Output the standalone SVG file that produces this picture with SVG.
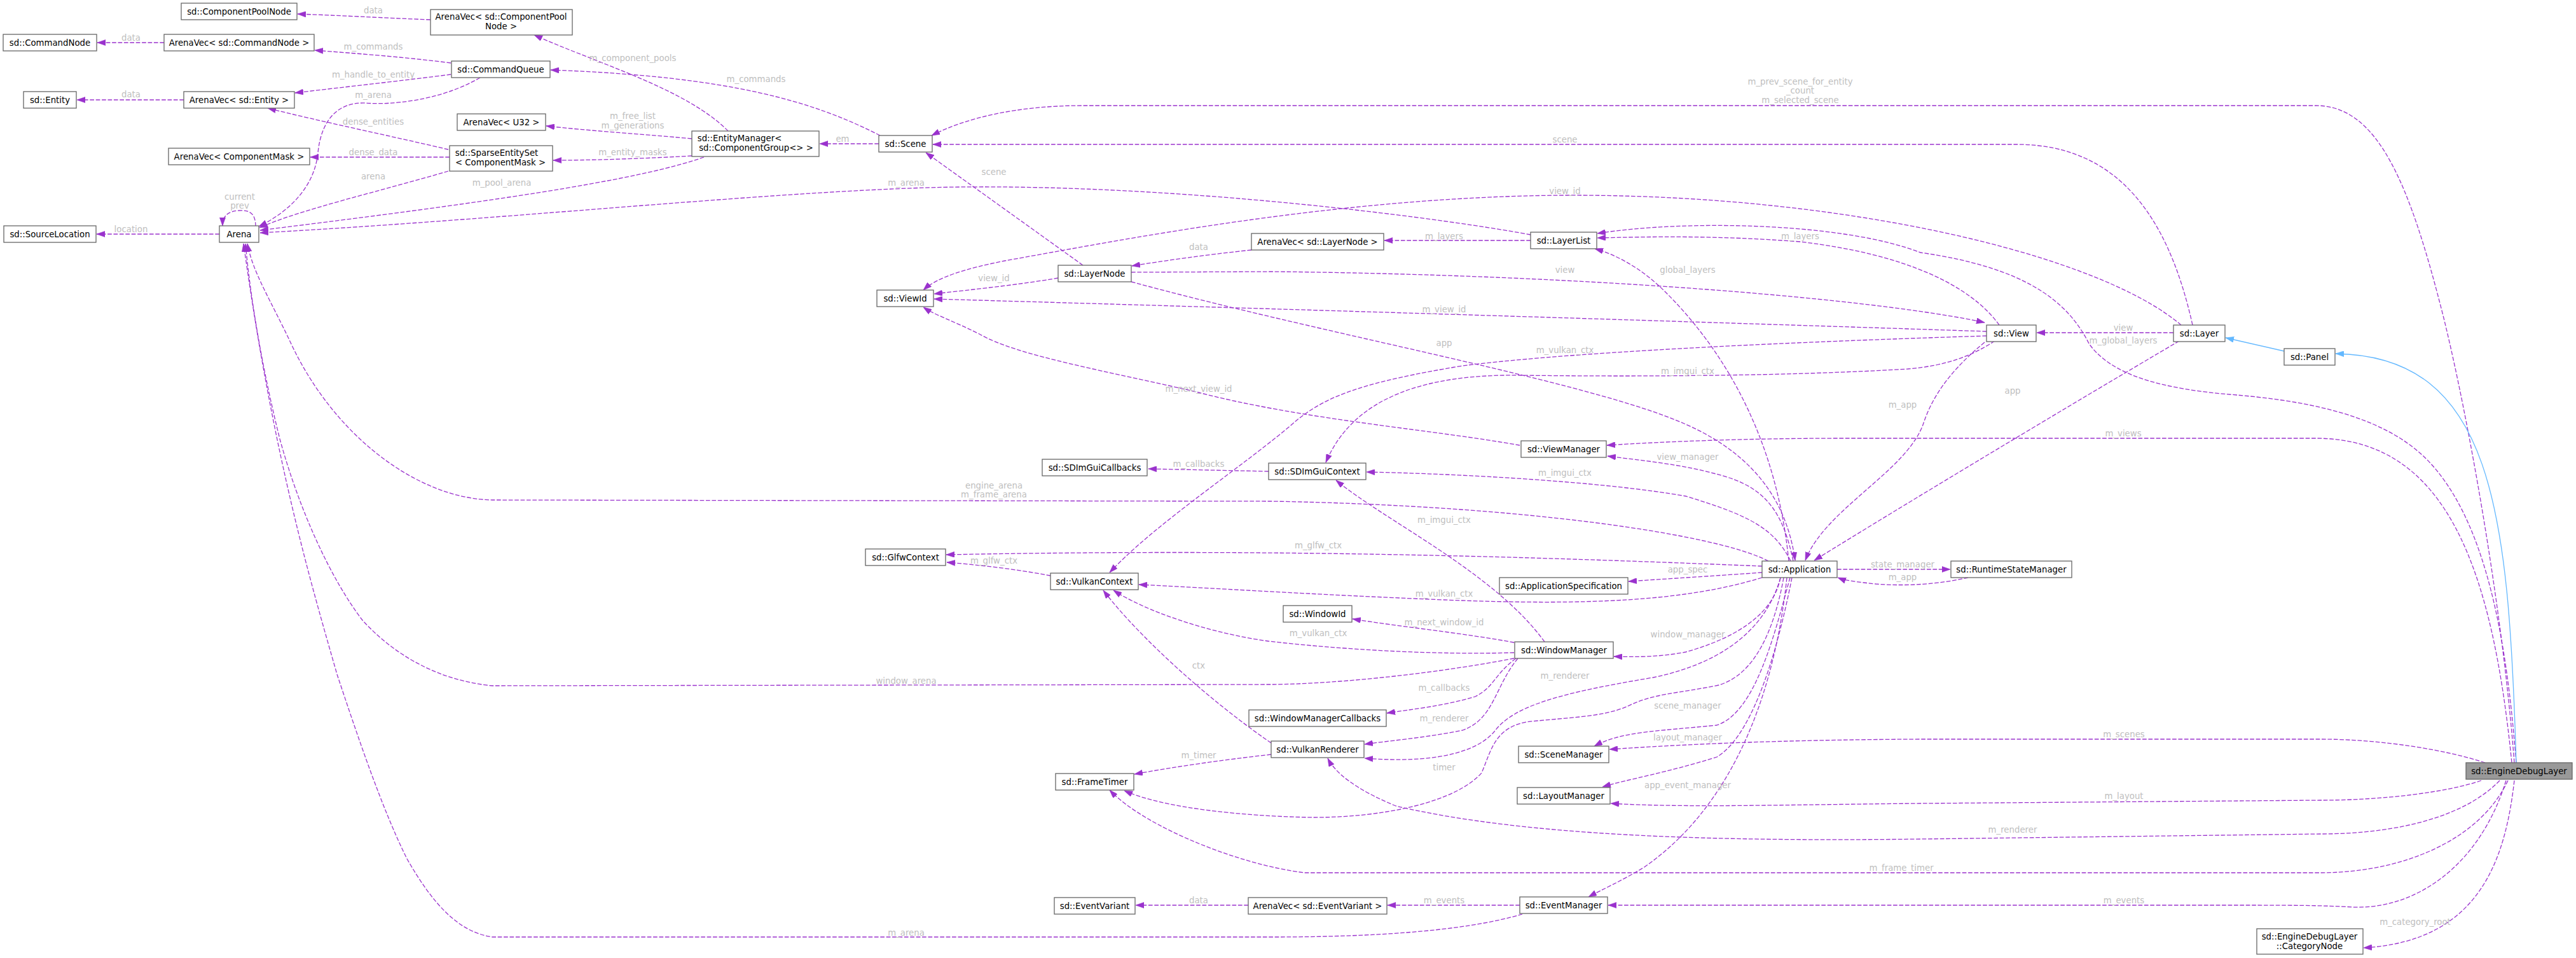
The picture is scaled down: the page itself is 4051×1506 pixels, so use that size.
<svg xmlns="http://www.w3.org/2000/svg" width="4051" height="1506" viewBox="0 0 4051 1506">
<style>
.n rect{fill:#fff;stroke:#666;stroke-width:1.3}
.n text,.l{font-family:"DejaVu Sans","Liberation Sans",sans-serif;font-size:13.3px;text-anchor:middle}
.n text{fill:#000}
.l{fill:#bebebe}
.e{fill:none;stroke:#9a32cd;stroke-width:1.3;stroke-dasharray:6.7,2.7;marker-end:url(#a)}
.i{fill:none;stroke:#63b8ff;stroke-width:1.3;marker-end:url(#b)}
</style>
<defs>
<marker id="a" viewBox="0 0 10 7" refX="10" refY="3.5" markerWidth="13" markerHeight="9.1" markerUnits="userSpaceOnUse" orient="auto"><path d="M0,0L10,3.5L0,7z" fill="#9a32cd" stroke="#9a32cd" stroke-width="0.5"/></marker>
<marker id="b" viewBox="0 0 10 7" refX="10" refY="3.5" markerWidth="13" markerHeight="9.1" markerUnits="userSpaceOnUse" orient="auto"><path d="M0,0L10,3.5L0,7z" fill="#63b8ff" stroke="#63b8ff" stroke-width="0.5"/></marker>
</defs>
<rect width="4051" height="1506" fill="#fff"/>
<g id="edges">
<path class="e" d="M677,31C600,28 530,24 468,22"/>
<text class="l" x="587" y="21">data</text>
<path class="e" d="M258,67L153,67"/>
<text class="l" x="206" y="64">data</text>
<path class="e" d="M709,99C640,90 560,84 495,79"/>
<text class="l" x="587" y="78">m_commands</text>
<path class="e" d="M709,117C640,126 540,137 464,146"/>
<text class="l" x="587" y="122">m_handle_to_entity</text>
<path class="e" d="M289,157L121,157"/>
<text class="l" x="206" y="153">data</text>
<path class="e" d="M755,122C690,160 610,165 575,162C530,160 505,190 500,240C495,290 460,330 407,356"/>
<text class="l" x="587" y="154">m_arena</text>
<path class="e" d="M705,235C620,215 500,190 421,170"/>
<text class="l" x="587" y="196">dense_entities</text>
<path class="e" d="M707,247L488,247"/>
<text class="l" x="587" y="244">dense_data</text>
<path class="e" d="M705,269C600,300 470,330 408,358"/>
<text class="l" x="587" y="282">arena</text>
<path class="e" d="M1107,247C1000,285 750,320 409,362"/>
<text class="l" x="789" y="292">m_pool_arena</text>
<path class="e" d="M2407,369C2250,340 1850,290 1507,294C1250,297 800,345 409,366"/>
<text class="l" x="1425" y="292">m_arena</text>
<path class="e" d="M345,368L152,368"/>
<text class="l" x="206" y="365">location</text>
<path class="e" d="M1145,206C1080,140 940,100 840,55"/>
<text class="l" x="995" y="96">m_component_pools</text>
<path class="e" d="M1088,218C1000,210 920,205 859,198"/>
<text class="l" x="995" y="187">m_free_list</text>
<text class="l" x="995" y="202">m_generations</text>
<path class="e" d="M1088,245C1000,250 920,252 870,252"/>
<text class="l" x="995" y="244">m_entity_masks</text>
<path class="e" d="M1384,213C1280,160 1150,120 866,110"/>
<text class="l" x="1189" y="129">m_commands</text>
<path class="e" d="M1382,226L1289,226"/>
<text class="l" x="1325" y="223">em</text>
<path class="e" d="M1703,417L1456,240"/>
<text class="l" x="1563" y="275">scene</text>
<path class="e" d="M1664,437C1600,448 1530,455 1469,462"/>
<text class="l" x="1563" y="442">view_id</text>
<path class="e" d="M1968,393C1900,400 1830,410 1780,418"/>
<text class="l" x="1885" y="393">data</text>
<path class="e" d="M2407,378L2177,378"/>
<text class="l" x="2271" y="376">m_layers</text>
<path class="e" d="M1779,428L2000,427C2500,432 2950,470 3121,507"/>
<text class="l" x="2461" y="429">view</text>
<path class="e" d="M3124,521C2700,507 2100,488 1469,470"/>
<text class="l" x="2271" y="491">m_view_id</text>
<path class="e" d="M3430,511C3300,400 2900,305 2461,307C2100,309 1750,380 1580,410C1520,422 1475,435 1452,456"/>
<text class="l" x="2461" y="305">view_id</text>
<path class="e" d="M3144,511C3100,450 3000,400 2831,380C2700,370 2600,372 2512,374"/>
<text class="l" x="2831" y="376">m_layers</text>
<path class="e" d="M3957,1199C3945,1050 3920,820 3811,717C3740,650 3620,630 3518,621C3400,612 3320,590 3285,540C3250,470 3180,420 3020,397C2900,350 2650,345 2512,367"/>
<text class="l" x="3339" y="540">m_global_layers</text>
<path class="e" d="M3418,523L3203,523"/>
<text class="l" x="3339" y="520">view</text>
<path class="e" d="M3448,511C3410,340 3330,228 3173,227L1467,227"/>
<text class="l" x="2461" y="224">scene</text>
<path class="e" d="M3954,1199C3935,950 3880,650 3843,500C3790,290 3740,166 3642,166L1703,166C1600,166 1520,185 1465,213"/>
<text class="l" x="2831" y="133">m_prev_scene_for_entity</text>
<text class="l" x="2831" y="147">_count</text>
<text class="l" x="2831" y="162">m_selected_scene</text>
<path class="e" d="M3950,1199C3920,900 3850,689 3642,689L2900,689C2750,689 2620,694 2527,700"/>
<text class="l" x="3339" y="686">m_views</text>
<path class="e" d="M2820,882C2805,810 2780,770 2716,750C2650,730 2590,725 2528,717"/>
<text class="l" x="2654" y="723">view_manager</text>
<path class="e" d="M2816,882C2790,830 2750,810 2651,780C2520,757 2300,745 2149,742"/>
<text class="l" x="2461" y="748">m_imgui_ctx</text>
<path class="e" d="M2781,882C2700,840 2400,795 2000,788L774,786C660,784 530,690 460,545C425,470 398,430 389,383"/>
<text class="l" x="1563" y="768">engine_arena</text>
<text class="l" x="1563" y="782">m_frame_arena</text>
<path class="e" d="M2381,1035C2250,1060 2100,1075 2000,1076L774,1078C690,1070 620,1030 570,975C520,910 470,800 440,690C415,590 395,480 386,383"/>
<text class="l" x="1425" y="1075">window_arena</text>
<path class="e" d="M2394,1437C2300,1465 2150,1473 2000,1473L774,1473C720,1465 680,1420 640,1350C600,1270 560,1150 530,1060C490,920 430,720 383,383"/>
<text class="l" x="1425" y="1471">m_arena</text>
<path class="e" d="M402,356C402,335 392,330 376,331C360,332 350,338 350,355"/>
<text class="l" x="377" y="314">current</text>
<text class="l" x="377" y="328">prev</text>
<path class="e" d="M2390,700C2250,675 2050,660 1885,617C1750,585 1600,560 1540,525C1500,505 1470,495 1452,483"/>
<text class="l" x="1885" y="616">m_next_view_id</text>
<path class="e" d="M1995,741L1806,737"/>
<text class="l" x="1885" y="734">m_callbacks</text>
<path class="e" d="M3124,528C2900,535 2500,550 2300,575C2150,600 2090,620 2040,660C1960,730 1820,820 1745,900"/>
<text class="l" x="2461" y="555">m_vulkan_ctx</text>
<path class="e" d="M3137,536C3100,560 3060,575 3000,580C2800,592 2550,592 2390,590C2250,588 2130,620 2085,727"/>
<text class="l" x="2654" y="588">m_imgui_ctx</text>
<path class="e" d="M1779,443C2100,530 2500,600 2651,667C2760,715 2810,790 2823,881"/>
<text class="l" x="2271" y="544">app</text>
<path class="e" d="M3121,538C3070,580 3040,620 3025,665C3000,740 2870,800 2839,881"/>
<text class="l" x="2992" y="641">m_app</text>
<path class="e" d="M3427,536C3250,640 3000,790 2853,881"/>
<text class="l" x="3165" y="619">app</text>
<path class="e" d="M2813,882C2795,700 2720,560 2620,460C2580,420 2540,400 2508,391"/>
<text class="l" x="2654" y="429">global_layers</text>
<path class="e" d="M2429,1009C2350,900 2180,820 2101,755"/>
<text class="l" x="2271" y="822">m_imgui_ctx</text>
<path class="e" d="M2771,890C2400,875 2000,862 1488,872"/>
<text class="l" x="2073" y="862">m_glfw_ctx</text>
<path class="e" d="M1652,905C1600,895 1540,888 1489,884"/>
<text class="l" x="1563" y="886">m_glfw_ctx</text>
<path class="e" d="M2771,900C2700,905 2620,910 2561,914"/>
<text class="l" x="2654" y="900">app_spec</text>
<path class="e" d="M2771,908C2650,945 2500,952 2271,943C2050,934 1900,924 1791,919"/>
<text class="l" x="2271" y="938">m_vulkan_ctx</text>
<path class="e" d="M2889,895L3067,895"/>
<text class="l" x="2992" y="892">state_manager</text>
<path class="e" d="M3095,908C3050,918 3000,922 2950,918C2920,915 2900,912 2890,908"/>
<text class="l" x="2992" y="912">m_app</text>
<path class="e" d="M2381,1010C2300,995 2200,985 2127,973"/>
<text class="l" x="2271" y="983">m_next_window_id</text>
<path class="e" d="M2381,1026C2250,1030 2100,1020 1995,1008C1900,995 1800,960 1751,928"/>
<text class="l" x="2073" y="1000">m_vulkan_ctx</text>
<path class="e" d="M2800,908C2790,960 2740,1000 2651,1025C2610,1033 2570,1033 2538,1032"/>
<text class="l" x="2654" y="1002">window_manager</text>
<path class="e" d="M1999,1168C1900,1100 1790,1000 1735,928"/>
<text class="l" x="1885" y="1051">ctx</text>
<path class="e" d="M2384,1035C2350,1060 2350,1080 2320,1095C2270,1110 2220,1115 2181,1121"/>
<text class="l" x="2271" y="1086">m_callbacks</text>
<path class="e" d="M2387,1035C2350,1080 2350,1130 2300,1148C2240,1160 2180,1165 2146,1170"/>
<text class="l" x="2271" y="1134">m_renderer</text>
<path class="e" d="M2800,908C2780,980 2720,1040 2600,1065C2450,1090 2380,1110 2350,1150C2320,1185 2250,1200 2146,1192"/>
<text class="l" x="2461" y="1067">m_renderer</text>
<path class="e" d="M1999,1186C1920,1195 1850,1205 1784,1217"/>
<text class="l" x="1885" y="1192">m_timer</text>
<path class="e" d="M2805,908C2790,990 2760,1060 2703,1077C2640,1090 2600,1090 2560,1110C2520,1128 2460,1128 2400,1135C2350,1145 2345,1180 2330,1215C2290,1260 2180,1285 2065,1285C1950,1283 1830,1270 1768,1243"/>
<text class="l" x="2271" y="1211">timer</text>
<path class="e" d="M2815,908C2790,1000 2760,1120 2700,1140C2600,1150 2550,1150 2507,1173"/>
<text class="l" x="2654" y="1114">scene_manager</text>
<path class="e" d="M3908,1199C3850,1180 3750,1162 3648,1162L3020,1162C2800,1163 2650,1170 2531,1178"/>
<text class="l" x="3340" y="1159">m_scenes</text>
<path class="e" d="M2818,908C2790,1050 2750,1160 2700,1190C2620,1215 2560,1225 2520,1237"/>
<text class="l" x="2654" y="1164">layout_manager</text>
<path class="e" d="M3902,1227C3850,1245 3750,1258 3648,1258L3020,1263C2800,1265 2650,1270 2533,1263"/>
<text class="l" x="3340" y="1256">m_layout</text>
<path class="e" d="M2810,908C2790,1100 2720,1270 2586,1363C2550,1385 2520,1398 2498,1410"/>
<text class="l" x="2654" y="1239">app_event_manager</text>
<path class="e" d="M3931,1227C3880,1280 3780,1311 3648,1311L3020,1319C2700,1323 2400,1315 2195,1267C2130,1240 2100,1215 2088,1192"/>
<text class="l" x="3165" y="1309">m_renderer</text>
<path class="e" d="M3944,1227C3900,1320 3780,1372 3648,1372L2052,1372C1950,1360 1800,1300 1745,1242"/>
<text class="l" x="2990" y="1369">m_frame_timer</text>
<path class="e" d="M2390,1423L2182,1423"/>
<text class="l" x="2271" y="1420">m_events</text>
<path class="e" d="M1963,1423L1786,1423"/>
<text class="l" x="1885" y="1420">data</text>
<path class="e" d="M3941,1227C3900,1360 3800,1430 3700,1426C3650,1423 3600,1423 3500,1423L2529,1423"/>
<text class="l" x="3340" y="1420">m_events</text>
<path class="e" d="M3954,1227C3940,1350 3900,1480 3717,1490"/>
<text class="l" x="3798" y="1454">m_category_root</text>
<path class="i" d="M3592,552L3500,531"/>
<path class="i" d="M3957,1199C3945,800 3920,560 3673,556"/>
</g>
<g id="n_cpn" class="n"><rect x="285" y="5" width="182" height="26"/><text x="376" y="22.7">sd::ComponentPoolNode</text></g>
<g id="n_avcpn" class="n"><rect x="677" y="15" width="223" height="40"/><text x="788" y="31.4">ArenaVec&lt; sd::ComponentPool</text><text x="788" y="46.4">Node &gt;</text></g>
<g id="n_cn" class="n"><rect x="5" y="54" width="147" height="26"/><text x="78.5" y="71.7">sd::CommandNode</text></g>
<g id="n_avcn" class="n"><rect x="258" y="54" width="236" height="26"/><text x="376" y="71.7">ArenaVec&lt; sd::CommandNode &gt;</text></g>
<g id="n_cq" class="n"><rect x="710" y="96" width="155" height="26"/><text x="787.5" y="113.7">sd::CommandQueue</text></g>
<g id="n_ent" class="n"><rect x="37" y="144" width="83" height="26"/><text x="78.5" y="161.7">sd::Entity</text></g>
<g id="n_ave" class="n"><rect x="289" y="144" width="174" height="26"/><text x="376" y="161.7">ArenaVec&lt; sd::Entity &gt;</text></g>
<g id="n_avu" class="n"><rect x="719" y="179" width="139" height="26"/><text x="788.5" y="196.7">ArenaVec&lt; U32 &gt;</text></g>
<g id="n_avcm" class="n"><rect x="265" y="233" width="222" height="26"/><text x="376" y="250.7">ArenaVec&lt; ComponentMask &gt;</text></g>
<g id="n_ses" class="n"><rect x="707" y="229" width="162" height="40"/><text x="781" y="245">sd::SparseEntitySet</text><text x="787" y="259.7">&lt; ComponentMask &gt;</text></g>
<g id="n_sl" class="n"><rect x="6" y="355" width="145" height="26"/><text x="78.5" y="372.7">sd::SourceLocation</text></g>
<g id="n_arena" class="n"><rect x="345" y="355" width="62" height="26"/><text x="376" y="372.7">Arena</text></g>
<g id="n_em" class="n"><rect x="1088" y="206" width="200" height="40"/><text x="1163" y="222.4">sd::EntityManager&lt;</text><text x="1189" y="237">sd::ComponentGroup&lt;&gt; &gt;</text></g>
<g id="n_scene" class="n"><rect x="1382" y="213" width="84" height="26"/><text x="1424" y="230.7">sd::Scene</text></g>
<g id="n_ln" class="n"><rect x="1664" y="417" width="115" height="26"/><text x="1721.5" y="434.7">sd::LayerNode</text></g>
<g id="n_vid" class="n"><rect x="1379" y="456" width="89" height="26"/><text x="1423.5" y="473.7">sd::ViewId</text></g>
<g id="n_avln" class="n"><rect x="1968" y="367" width="208" height="26"/><text x="2072" y="384.7">ArenaVec&lt; sd::LayerNode &gt;</text></g>
<g id="n_ll" class="n"><rect x="2407" y="365" width="104" height="26"/><text x="2459" y="382.7">sd::LayerList</text></g>
<g id="n_view" class="n"><rect x="3124" y="511" width="78" height="26"/><text x="3163" y="528.7">sd::View</text></g>
<g id="n_layer" class="n"><rect x="3418" y="511" width="81" height="26"/><text x="3458.5" y="528.7">sd::Layer</text></g>
<g id="n_panel" class="n"><rect x="3592" y="548" width="80" height="26"/><text x="3632" y="565.7">sd::Panel</text></g>
<g id="n_rsm" class="n"><rect x="3068" y="882" width="190" height="26"/><text x="3163" y="899.7">sd::RuntimeStateManager</text></g>
<g id="n_edl" class="n"><rect x="3878" y="1199" width="167" height="26" style="fill:#999"/><text x="3961.5" y="1216.7">sd::EngineDebugLayer</text></g>
<g id="n_cat" class="n"><rect x="3549" y="1460" width="167" height="40"/><text x="3632" y="1476.7">sd::EngineDebugLayer</text><text x="3632" y="1491.7">::CategoryNode</text></g>
<g id="n_vm" class="n"><rect x="2392" y="693" width="134" height="26"/><text x="2459" y="710.7">sd::ViewManager</text></g>
<g id="n_imctx" class="n"><rect x="1995" y="728" width="153" height="26"/><text x="2071.5" y="745.7">sd::SDImGuiContext</text></g>
<g id="n_app" class="n"><rect x="2771" y="882" width="118" height="26"/><text x="2830" y="899.7">sd::Application</text></g>
<g id="n_aspec" class="n"><rect x="2358" y="908" width="202" height="26"/><text x="2459" y="925.7">sd::ApplicationSpecification</text></g>
<g id="n_wid" class="n"><rect x="2018" y="952" width="108" height="26"/><text x="2072" y="969.7">sd::WindowId</text></g>
<g id="n_imcb" class="n"><rect x="1639" y="722" width="165" height="26"/><text x="1721.5" y="739.7">sd::SDImGuiCallbacks</text></g>
<g id="n_glfw" class="n"><rect x="1361" y="863" width="126" height="26"/><text x="1424" y="880.7">sd::GlfwContext</text></g>
<g id="n_vkctx" class="n"><rect x="1652" y="901" width="138" height="26"/><text x="1721" y="918.7">sd::VulkanContext</text></g>
<g id="n_wm" class="n"><rect x="2382" y="1009" width="155" height="26"/><text x="2459.5" y="1026.7">sd::WindowManager</text></g>
<g id="n_wmcb" class="n"><rect x="1964" y="1116" width="216" height="26"/><text x="2072" y="1133.7">sd::WindowManagerCallbacks</text></g>
<g id="n_vkr" class="n"><rect x="1999" y="1165" width="146" height="26"/><text x="2072" y="1182.7">sd::VulkanRenderer</text></g>
<g id="n_sm" class="n"><rect x="2388" y="1173" width="142" height="26"/><text x="2459" y="1190.7">sd::SceneManager</text></g>
<g id="n_lm" class="n"><rect x="2386" y="1238" width="146" height="26"/><text x="2459" y="1255.7">sd::LayoutManager</text></g>
<g id="n_ft" class="n"><rect x="1660" y="1216" width="123" height="26"/><text x="1721.5" y="1233.7">sd::FrameTimer</text></g>
<g id="n_ev" class="n"><rect x="1658" y="1411" width="127" height="26"/><text x="1721.5" y="1428.7">sd::EventVariant</text></g>
<g id="n_avev" class="n"><rect x="1963" y="1411" width="218" height="26"/><text x="2072" y="1428.7">ArenaVec&lt; sd::EventVariant &gt;</text></g>
<g id="n_evm" class="n"><rect x="2390" y="1410" width="138" height="26"/><text x="2459" y="1427.7">sd::EventManager</text></g>
</svg>
